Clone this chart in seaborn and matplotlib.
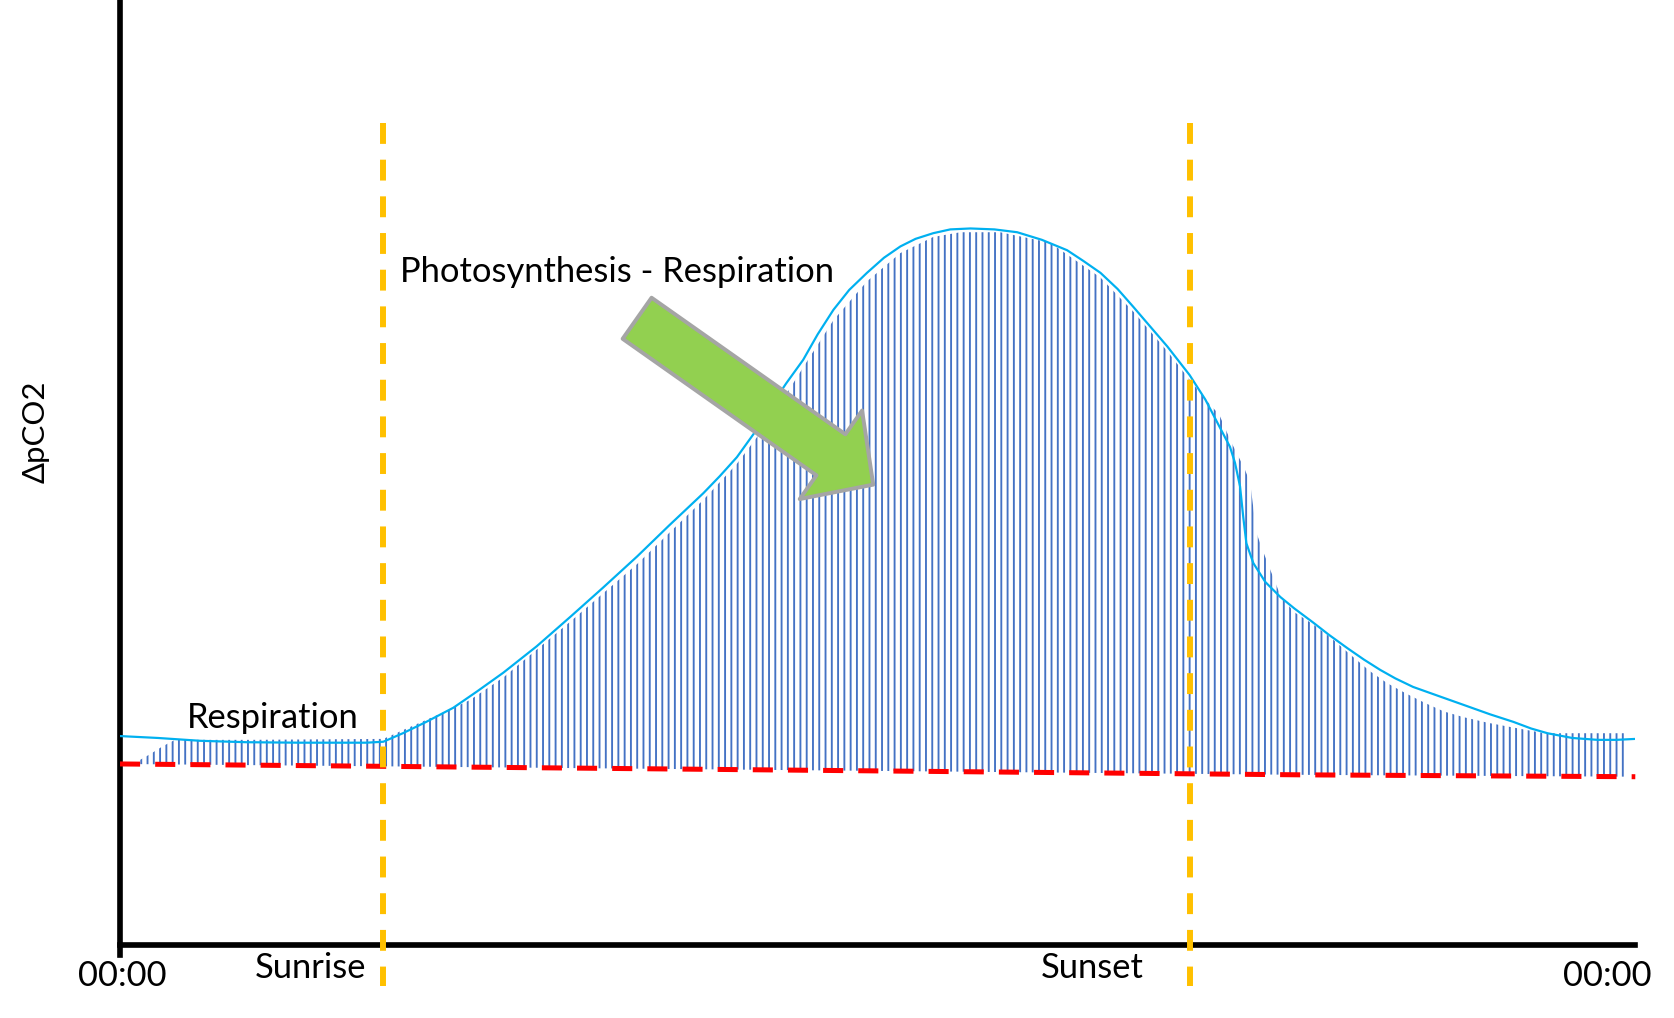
import numpy as np
import pandas as pd
import seaborn as sns
import matplotlib.pyplot as plt

# hours of the day (0-24) and delta pCO2 in arbitrary units (0-100)
curve_hours = [0.0, 0.6, 1.27, 2.0, 2.85, 3.9, 4.17, 4.48, 4.85, 5.28, 5.65, 6.07, 6.6, 7.13,
               7.65, 8.19, 8.7, 9.24, 9.5, 9.77, 10.05, 10.30, 10.55, 10.82, 11.05, 11.30,
               11.55, 11.83, 12.1, 12.36, 12.6, 12.88, 13.15, 13.47, 13.85, 14.21, 14.6,
               15.00, 15.25, 15.53, 15.8, 16.05, 16.59, 16.94, 17.19, 17.58, 17.66, 17.74,
               17.79, 17.84, 17.95, 18.14, 18.38, 18.6, 18.90, 19.15, 19.44, 19.7, 19.96,
               20.2, 20.48, 20.9, 21.28, 21.7, 22.07, 22.35, 22.61, 23.0, 23.40, 23.7, 24.0]
curve_values = [22.1, 21.9, 21.6, 21.45, 21.4, 21.4, 21.5, 22.4, 23.6, 25.1, 26.8, 28.8, 31.6, 34.7,
                37.8, 41.1, 44.4, 47.8, 49.6, 51.6, 54.2, 56.9, 59.4, 61.9, 64.6, 67.2,
                69.3, 71.1, 72.7, 73.9, 74.7, 75.3, 75.7, 75.8, 75.7, 75.4, 74.6,
                73.5, 72.4, 71.1, 69.4, 67.5, 63.3, 60.3, 57.7, 52.7, 51.0, 48.5,
                45.3, 42.5, 40.4, 38.4, 36.8, 35.6, 34.1, 32.8, 31.4, 30.2, 29.1,
                28.2, 27.3, 26.3, 25.4, 24.4, 23.6, 22.9, 22.4, 21.9, 21.7, 21.7, 21.8]

# measured values (tops of the vertical bars)
bar_hours = [0.25, 0.27, 0.48, 0.67, 0.87, 2.06, 4.17, 4.64, 5.12, 5.54, 6.07, 7.13, 8.19, 9.24,
             9.77, 10.30, 10.82, 11.30, 11.83, 12.36, 12.88, 13.31, 13.94, 14.73, 15.53,
             16.05, 16.59, 16.94, 17.22, 17.41, 17.60, 17.81, 17.90, 18.00, 18.09, 18.20,
             18.39, 18.60, 18.88, 19.18, 19.49, 19.79, 20.07, 20.37, 20.67, 20.97, 21.28,
             21.67, 22.07, 22.56, 23.84, 23.86]
bar_values = [19.1, 19.4, 20.2, 21.0, 21.7, 21.7, 21.8, 23.2, 24.6, 25.9, 28.3, 34.2, 40.3, 47.1,
              50.9, 55.6, 61.1, 66.1, 70.2, 73.2, 74.9, 75.4, 75.4, 74.3, 70.6,
              67.0, 62.8, 59.8, 57.5, 56.1, 53.2, 50.4, 48.9, 43.6, 41.9, 40.0,
              36.8, 35.2, 34.0, 32.5, 30.7, 29.0, 27.7, 26.6, 25.6, 24.7, 24.1,
              23.5, 23.0, 22.4, 22.4, 17.8]

# respiration baseline (red dashed)
resp_hours = [0.0, 4.17, 18.69, 24.0]
resp_values = [19.15, 18.9, 18.0, 17.8]

# sunrise / sunset markers
event_hours = [4.17, 16.94]
event_names = ["Sunrise", "Sunset"]
event_label_hours = [3.01, 15.4]
event_tops = [87.0, 87.0]

tick_hours = [0.03, 23.56]
tick_labels = ["00:00", "00:00"]

curve = pd.DataFrame({"hour": curve_hours, "value": curve_values})
resp = pd.DataFrame({"hour": resp_hours, "value": resp_values})

sns.set_theme(style="white")
plt.rcParams["font.family"] = ["Lato", "DejaVu Sans"]
plt.rcParams["text.color"] = "black"
plt.rcParams["hatch.linewidth"] = 1.2

FS = 22
DPI = 113
fig = plt.figure(figsize=(1674.3 / DPI, 1018.3 / DPI), dpi=DPI)
ax = fig.add_axes([120 / 1674, 73 / 1018, 1515 / 1674, 945 / 1018])
ax.set_xlim(0, 24)
ax.set_ylim(0, 100)

# vertical bars drawn as a hatched area between baseline and measured tops
base_under_bars = np.interp(bar_hours, resp_hours, resp_values)
ax.fill_between(bar_hours, base_under_bars, bar_values, facecolor="none",
                edgecolor="#4472C4", hatch="|||", linewidth=0, zorder=1)

# smoothed curve
sns.lineplot(data=curve, x="hour", y="value", color="#00B0F0", linewidth=1.4,
             ax=ax, zorder=3)

# respiration line
sns.lineplot(data=resp, x="hour", y="value", color="#FF0000", linewidth=3.2,
             linestyle=(0, (4, 3)), ax=ax, zorder=4, clip_on=False)

# sunrise / sunset
for h, top in zip(event_hours, event_tops):
    ax.plot([h, h], [top, -4.3], color="#FFC000", linewidth=3.8,
            linestyle=(0, (3.5, 2.65)), zorder=5, clip_on=False)
for name, h in zip(event_names, event_label_hours):
    ax.text(h, -3.5, name, ha="center", va="baseline", fontsize=FS, color="black")

for h, lab in zip(tick_hours, tick_labels):
    ax.text(h, -4.3, lab, ha="center", va="baseline", fontsize=FS, color="black")

ax.text(1.06, 23.0, "Respiration", ha="left", va="baseline", fontsize=FS,
        color="black", zorder=6)
ax.text(4.44, 70.2, "Photosynthesis - Respiration", ha="left", va="baseline",
        fontsize=FS, color="black", zorder=6)

# green arrow
ax.annotate("", xy=(11.93, 48.7), xytext=(8.19, 66.3),
            arrowprops=dict(arrowstyle="simple,head_length=33,head_width=69,tail_width=32",
                            mutation_scale=1, facecolor="#92D050", edgecolor="#A5A5A5",
                            linewidth=2.5, shrinkA=0, shrinkB=0),
            zorder=7)

fig.text(36 / 1674, 1 - 432 / 1018, "ΔpCO2", rotation=90, ha="center", va="center",
         fontsize=19.8, color="black")

ax.set_xticks([])
ax.set_yticks([])
ax.set_xlabel("")
ax.set_ylabel("")
for side in ["top", "right"]:
    ax.spines[side].set_visible(False)
for side in ["left", "bottom"]:
    ax.spines[side].set_color("black")
    ax.spines[side].set_linewidth(3.6)
ax.spines["left"].set_bounds(-1.1, 100)
ax.patch.set_alpha(0)

plt.savefig("out.png", dpi=DPI)
